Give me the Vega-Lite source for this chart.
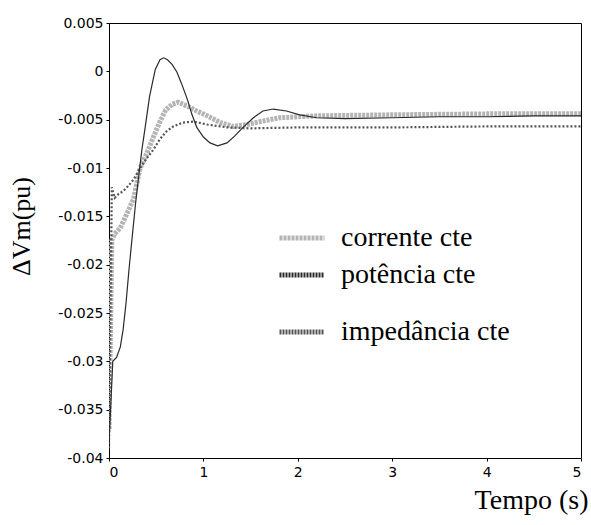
{
  "$schema": "https://vega.github.io/schema/vega-lite/v6.json",
  "width": 472,
  "height": 435,
  "autosize": {"type": "none"},
  "padding": {"left": 109, "top": 23, "right": 10, "bottom": 67},
  "background": "white",
  "config": {
    "view": {"stroke": "black", "strokeWidth": 1},
    "axis": {"grid": false, "domain": false, "labelFont": "DejaVu Sans", "labelFontSize": 14, "labelColor": "black", "tickColor": "black", "tickSize": 3, "titleFont": "Liberation Serif", "titleFontWeight": "normal", "titleColor": "black"},
    "legend": {"title": null, "orient": "none", "symbolType": "stroke", "symbolSize": 2025, "symbolStrokeWidth": 5, "labelFont": "Liberation Serif", "labelFontSize": 28, "labelColor": "black", "labelOffset": 14, "labelLimit": 400}
  },
  "data": {"values": [
    {"t": 0, "v": -0.0385, "s": "potência cte"},
    {"t": 0.04, "v": -0.030, "s": "potência cte"},
    {"t": 0.08, "v": -0.0296, "s": "potência cte"},
    {"t": 0.12, "v": -0.0285, "s": "potência cte"},
    {"t": 0.15, "v": -0.0267, "s": "potência cte"},
    {"t": 0.18, "v": -0.0240, "s": "potência cte"},
    {"t": 0.21, "v": -0.0207, "s": "potência cte"},
    {"t": 0.24, "v": -0.0177, "s": "potência cte"},
    {"t": 0.28, "v": -0.0138, "s": "potência cte"},
    {"t": 0.31, "v": -0.0112, "s": "potência cte"},
    {"t": 0.35, "v": -0.0080, "s": "potência cte"},
    {"t": 0.38, "v": -0.0060, "s": "potência cte"},
    {"t": 0.43, "v": -0.0026, "s": "potência cte"},
    {"t": 0.49, "v": 0.0002, "s": "potência cte"},
    {"t": 0.54, "v": 0.0012, "s": "potência cte"},
    {"t": 0.58, "v": 0.0014, "s": "potência cte"},
    {"t": 0.62, "v": 0.0012, "s": "potência cte"},
    {"t": 0.67, "v": 0.0007, "s": "potência cte"},
    {"t": 0.72, "v": -0.0001, "s": "potência cte"},
    {"t": 0.77, "v": -0.0013, "s": "potência cte"},
    {"t": 0.83, "v": -0.0029, "s": "potência cte"},
    {"t": 0.88, "v": -0.0045, "s": "potência cte"},
    {"t": 0.93, "v": -0.0058, "s": "potência cte"},
    {"t": 1.0, "v": -0.0068, "s": "potência cte"},
    {"t": 1.07, "v": -0.0074, "s": "potência cte"},
    {"t": 1.15, "v": -0.0077, "s": "potência cte"},
    {"t": 1.25, "v": -0.0074, "s": "potência cte"},
    {"t": 1.33, "v": -0.0067, "s": "potência cte"},
    {"t": 1.42, "v": -0.0058, "s": "potência cte"},
    {"t": 1.53, "v": -0.0048, "s": "potência cte"},
    {"t": 1.63, "v": -0.0041, "s": "potência cte"},
    {"t": 1.74, "v": -0.0039, "s": "potência cte"},
    {"t": 1.88, "v": -0.0041, "s": "potência cte"},
    {"t": 2.02, "v": -0.0045, "s": "potência cte"},
    {"t": 2.2, "v": -0.0048, "s": "potência cte"},
    {"t": 2.5, "v": -0.0049, "s": "potência cte"},
    {"t": 3.0, "v": -0.0048, "s": "potência cte"},
    {"t": 3.5, "v": -0.0047, "s": "potência cte"},
    {"t": 4.0, "v": -0.0047, "s": "potência cte"},
    {"t": 4.5, "v": -0.0046, "s": "potência cte"},
    {"t": 5.0, "v": -0.0046, "s": "potência cte"},

    {"t": 0, "v": -0.037, "s": "corrente cte"},
    {"t": 0.03, "v": -0.0175, "s": "corrente cte"},
    {"t": 0.06, "v": -0.0168, "s": "corrente cte"},
    {"t": 0.12, "v": -0.0162, "s": "corrente cte"},
    {"t": 0.2, "v": -0.0145, "s": "corrente cte"},
    {"t": 0.26, "v": -0.0132, "s": "corrente cte"},
    {"t": 0.33, "v": -0.0100, "s": "corrente cte"},
    {"t": 0.4, "v": -0.0085, "s": "corrente cte"},
    {"t": 0.47, "v": -0.0068, "s": "corrente cte"},
    {"t": 0.54, "v": -0.0052, "s": "corrente cte"},
    {"t": 0.6, "v": -0.0040, "s": "corrente cte"},
    {"t": 0.67, "v": -0.0034, "s": "corrente cte"},
    {"t": 0.73, "v": -0.0032, "s": "corrente cte"},
    {"t": 0.83, "v": -0.0036, "s": "corrente cte"},
    {"t": 0.93, "v": -0.0041, "s": "corrente cte"},
    {"t": 1.04, "v": -0.0046, "s": "corrente cte"},
    {"t": 1.18, "v": -0.0053, "s": "corrente cte"},
    {"t": 1.31, "v": -0.0057, "s": "corrente cte"},
    {"t": 1.46, "v": -0.0055, "s": "corrente cte"},
    {"t": 1.6, "v": -0.0052, "s": "corrente cte"},
    {"t": 1.81, "v": -0.0048, "s": "corrente cte"},
    {"t": 2.2, "v": -0.0046, "s": "corrente cte"},
    {"t": 3.0, "v": -0.0045, "s": "corrente cte"},
    {"t": 4.0, "v": -0.0044, "s": "corrente cte"},
    {"t": 5.0, "v": -0.0044, "s": "corrente cte"},

    {"t": 0, "v": -0.039, "s": "impedância cte"},
    {"t": 0.03, "v": -0.0120, "s": "impedância cte"},
    {"t": 0.06, "v": -0.0131, "s": "impedância cte"},
    {"t": 0.1, "v": -0.0127, "s": "impedância cte"},
    {"t": 0.15, "v": -0.0124, "s": "impedância cte"},
    {"t": 0.2, "v": -0.0119, "s": "impedância cte"},
    {"t": 0.26, "v": -0.0112, "s": "impedância cte"},
    {"t": 0.33, "v": -0.0100, "s": "impedância cte"},
    {"t": 0.4, "v": -0.0090, "s": "impedância cte"},
    {"t": 0.47, "v": -0.0081, "s": "impedância cte"},
    {"t": 0.54, "v": -0.0070, "s": "impedância cte"},
    {"t": 0.61, "v": -0.0062, "s": "impedância cte"},
    {"t": 0.68, "v": -0.0057, "s": "impedância cte"},
    {"t": 0.78, "v": -0.0053, "s": "impedância cte"},
    {"t": 0.89, "v": -0.0052, "s": "impedância cte"},
    {"t": 1.04, "v": -0.0055, "s": "impedância cte"},
    {"t": 1.25, "v": -0.0058, "s": "impedância cte"},
    {"t": 1.5, "v": -0.0059, "s": "impedância cte"},
    {"t": 2.0, "v": -0.0058, "s": "impedância cte"},
    {"t": 3.0, "v": -0.0058, "s": "impedância cte"},
    {"t": 4.0, "v": -0.0057, "s": "impedância cte"},
    {"t": 5.0, "v": -0.0057, "s": "impedância cte"}
  ]},
  "encoding": {
    "x": {"field": "t", "type": "quantitative",
      "scale": {"domain": [0, 5], "nice": false},
      "axis": {"values": [0, 1, 2, 3, 4, 5], "labelPadding": 4, "title": "Tempo (s)", "titleFontSize": 28, "titleAnchor": "end", "titleAlign": "right", "titleBaseline": "alphabetic", "titleX": 479, "titleY": 50}},
    "y": {"field": "v", "type": "quantitative",
      "scale": {"domain": [-0.04, 0.005], "nice": false, "zero": false},
      "axis": {"values": [-0.04, -0.035, -0.03, -0.025, -0.02, -0.015, -0.01, -0.005, 0, 0.005], "labelExpr": "toString(datum.value)", "labelPadding": 3, "title": "ΔVm(pu)", "titleFontSize": 26, "titleAngle": -90, "titleBaseline": "middle", "titleAlign": "center", "titleX": -88, "titleY": 203}}
  },
  "layer": [
    {
      "transform": [{"filter": "datum.s === 'corrente cte'"}],
      "mark": {"type": "line", "clip": true, "strokeWidth": 5, "strokeDash": [3, 1]},
      "encoding": {
        "color": {"field": "s", "type": "nominal", "scale": {"range": ["#b4b4b4"]},
          "legend": {"legendX": 168, "legendY": 190, "symbolDash": [3, 1]}}
      }
    },
    {
      "transform": [{"filter": "datum.s === 'impedância cte'"}],
      "mark": {"type": "line", "clip": true, "strokeWidth": 2.2, "strokeDash": [2, 2]},
      "encoding": {
        "color": {"field": "s", "type": "nominal", "scale": {"range": ["#555555"]},
          "legend": {"legendX": 168, "legendY": 284, "symbolDash": [2, 1],
            "encode": {"symbols": {"update": {"stroke": {"value": "#8a8a8a"}}}}}}
      }
    },
    {
      "transform": [{"filter": "datum.s === 'potência cte'"}],
      "mark": {"type": "line", "clip": true, "strokeWidth": 1.2},
      "encoding": {
        "color": {"field": "s", "type": "nominal", "scale": {"range": ["#2a2a2a"]},
          "legend": {"legendX": 168, "legendY": 227, "symbolDash": [2, 1],
            "encode": {"symbols": {"update": {"stroke": {"value": "#8f8f8f"}}}}}}
      }
    }
  ],
  "resolve": {"scale": {"color": "independent"}}
}
